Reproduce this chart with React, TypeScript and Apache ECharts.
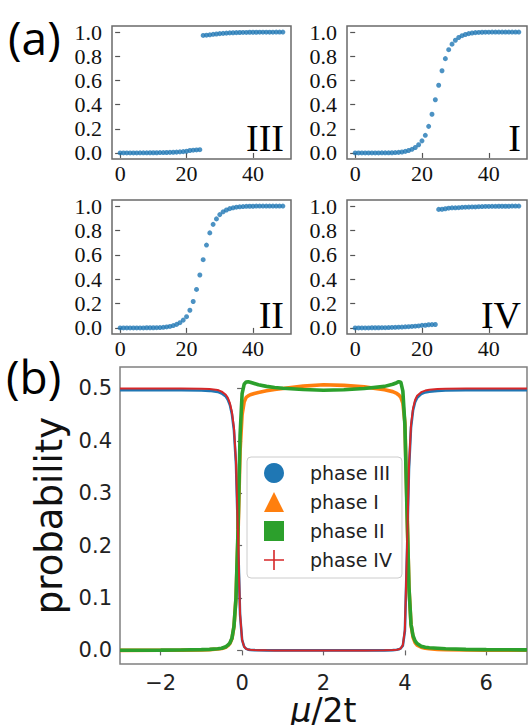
import React, { useEffect, useRef } from 'react';
import * as echarts from 'echarts';

// ---------- panel (a): four phase classifiers ----------
const aIndex = [
  0, 1, 2, 3, 4, 5, 6, 7, 8, 9,
  10, 11, 12, 13, 14, 15, 16, 17, 18, 19,
  20, 21, 22, 23, 24, 25, 26, 27, 28, 29,
  30, 31, 32, 33, 34, 35, 36, 37, 38, 39,
  40, 41, 42, 43, 44, 45, 46, 47, 48, 49,
];
const aPhaseIII = [
  0.0, 0.0, 0.0, 0.0, 0.0, 0.0, 0.001, 0.001, 0.001, 0.002,
  0.002, 0.002, 0.003, 0.003, 0.004, 0.005, 0.006, 0.007, 0.009, 0.011,
  0.014, 0.02, 0.023, 0.025, 0.027, 0.972, 0.974, 0.977, 0.981, 0.984,
  0.987, 0.989, 0.991, 0.993, 0.994, 0.995, 0.996, 0.997, 0.997, 0.998,
  0.998, 0.998, 0.999, 0.999, 0.999, 0.999, 0.999, 1.0, 1.0, 1.0,
];
const aPhaseI = [
  0.0, 0.0, 0.0, 0.0, 0.0, 0.0, 0.0, 0.0, 0.001, 0.001,
  0.001, 0.002, 0.003, 0.005, 0.008, 0.013, 0.02, 0.03, 0.045, 0.068,
  0.1, 0.146, 0.22, 0.32, 0.44, 0.56, 0.68, 0.78, 0.854, 0.9,
  0.932, 0.955, 0.97, 0.98, 0.987, 0.992, 0.995, 0.997, 0.998, 0.999,
  0.999, 1.0, 1.0, 1.0, 1.0, 1.0, 1.0, 1.0, 1.0, 1.0,
];
const aPhaseII = [
  0.0, 0.0, 0.0, 0.0, 0.0, 0.0, 0.0, 0.0, 0.001, 0.001,
  0.001, 0.002, 0.003, 0.005, 0.008, 0.012, 0.019, 0.029, 0.043, 0.064,
  0.092, 0.145, 0.217, 0.316, 0.434, 0.56, 0.68, 0.78, 0.85, 0.895,
  0.93, 0.953, 0.968, 0.979, 0.986, 0.991, 0.994, 0.996, 0.998, 0.999,
  0.999, 1.0, 1.0, 1.0, 1.0, 1.0, 1.0, 1.0, 1.0, 1.0,
];
const aPhaseIV = [
  0.0, 0.0, 0.0, 0.0, 0.0, 0.001, 0.001, 0.001, 0.002, 0.002,
  0.003, 0.004, 0.005, 0.006, 0.007, 0.009, 0.01, 0.012, 0.014, 0.016,
  0.021, 0.022, 0.026, 0.027, 0.028, 0.973, 0.974, 0.978, 0.983, 0.986,
  0.986, 0.987, 0.99, 0.991, 0.992, 0.993, 0.993, 0.995, 0.996, 0.997,
  0.997, 0.998, 0.998, 0.999, 0.999, 0.999, 0.999, 1.0, 1.0, 1.0,
];
const aPanelNames = ['III', 'I', 'II', 'IV'];
const aTicksX = [0, 20, 40];
const aTicksY = [0, 0.2, 0.4, 0.6, 0.8, 1.0];

// ---------- panel (b): probabilities vs mu/2t ----------
const muX = [
  -3, -2, -1.5, -1, -0.8, -0.6, -0.5, -0.4, -0.35, -0.3,
  -0.25, -0.2, -0.15, -0.1, -0.05, 0, 0.05, 0.1, 0.15, 0.2,
  0.3, 0.4, 0.6, 0.8, 1, 1.5, 2, 2.5, 3, 3.5,
  3.7, 3.8, 3.85, 3.9, 3.95, 4, 4.05, 4.1, 4.15, 4.2,
  4.25, 4.3, 4.4, 4.5, 4.6, 4.8, 5, 5.5, 6, 7,
];
const probIII = [
  0.4965, 0.4965, 0.4965, 0.496, 0.4955, 0.4935, 0.4905, 0.4845, 0.4785, 0.4685,
  0.451, 0.42, 0.355, 0.215, 0.068, 0.02, 0.007, 0.003, 0.0015, 0.001,
  0.0005, 0.0003, 0.0001, 0, 0, 0, 0, 0, 0, 0.0001,
  0.0005, 0.0012, 0.002, 0.004, 0.009, 0.037, 0.18, 0.345, 0.425, 0.458,
  0.474, 0.482, 0.4895, 0.4925, 0.494, 0.4955, 0.496, 0.4965, 0.4965, 0.4965,
];
const probI = [
  0, 0.0002, 0.0004, 0.001, 0.0015, 0.0025, 0.0035, 0.006, 0.009, 0.013,
  0.022, 0.045, 0.1, 0.22, 0.38, 0.45, 0.474, 0.483, 0.486, 0.488,
  0.4905, 0.4925, 0.4955, 0.498, 0.5, 0.5045, 0.507, 0.506, 0.503, 0.4975,
  0.494, 0.4905, 0.4875, 0.483, 0.472, 0.435, 0.28, 0.12, 0.05, 0.025,
  0.015, 0.01, 0.006, 0.004, 0.003, 0.002, 0.0015, 0.001, 0.0005, 0.0002,
];
const probII = [
  0.0003, 0.0005, 0.0008, 0.0015, 0.002, 0.003, 0.004, 0.007, 0.01, 0.014,
  0.023, 0.046, 0.1, 0.23, 0.41, 0.49, 0.508, 0.5125, 0.513, 0.512,
  0.5095, 0.507, 0.504, 0.502, 0.5005, 0.498, 0.4965, 0.4975, 0.5, 0.504,
  0.508, 0.511, 0.513, 0.512, 0.495, 0.43, 0.27, 0.12, 0.05, 0.028,
  0.018, 0.013, 0.008, 0.006, 0.005, 0.004, 0.003, 0.002, 0.0015, 0.001,
];
const probIV = [
  0.5, 0.5, 0.5, 0.4995, 0.499, 0.497, 0.494, 0.488, 0.482, 0.472,
  0.455, 0.425, 0.36, 0.22, 0.07, 0.02, 0.007, 0.003, 0.0015, 0.001,
  0.0005, 0.0003, 0.0001, 0, 0, 0, 0, 0, 0, 0.0001,
  0.0005, 0.0012, 0.002, 0.004, 0.01, 0.04, 0.19, 0.35, 0.43, 0.462,
  0.478, 0.486, 0.493, 0.496, 0.4975, 0.499, 0.4995, 0.5, 0.5, 0.5,
];
const bSeriesNames = ['phase III', 'phase I', 'phase II', 'phase IV'];
const bTicksX = [-2, 0, 2, 4, 6];
const bTicksY = [0, 0.1, 0.2, 0.3, 0.4, 0.5];

const BLUE = '#1f77b4';
const ORANGE = '#ff7f0e';
const GREEN = '#2ca02c';
const RED = '#d62728';
const SERIF = '"Liberation Serif", "DejaVu Serif", serif';
const SANS = '"DejaVu Sans", sans-serif';

const zip = (xs: number[], ys: number[]) => xs.map((x, i) => [x, ys[i]]);

export default function App() {
  const ref = useRef<HTMLDivElement>(null);
  useEffect(() => {
    if (!ref.current) return;
    const chart = echarts.init(ref.current, undefined, { renderer: 'svg' });

    const aGrids = [
      { left: 112, top: 26, width: 179, height: 133 },
      { left: 347, top: 26, width: 180, height: 133 },
      { left: 112, top: 200, width: 179, height: 134 },
      { left: 347, top: 200, width: 180, height: 134 },
    ];
    const grids: any[] = aGrids.map((g) => ({
      ...g,
      show: true,
      borderColor: '#6a6a6a',
      borderWidth: 1.5,
      containLabel: false,
      outerBoundsMode: 'none',
    }));
    grids.push({
      left: 120,
      top: 367,
      width: 407,
      height: 297,
      show: true,
      borderColor: '#808080',
      borderWidth: 1.5,
      containLabel: false,
      outerBoundsMode: 'none',
    });

    const xAxes: any[] = aGrids.map((_, i) => ({
      type: 'value',
      gridIndex: i,
      min: -2.45,
      max: 51.45,
      splitLine: { show: false },
      axisLine: { show: false },
      axisTick: { show: true, customValues: aTicksX, length: 5, lineStyle: { color: '#555', width: 1.2 } },
      axisLabel: {
        customValues: aTicksX,
        margin: 3,
        fontFamily: SERIF,
        fontSize: 22,
        color: '#111',
        formatter: (v: number) => String(v),
      },
    }));
    const yAxes: any[] = aGrids.map((_, i) => ({
      type: 'value',
      gridIndex: i,
      min: -0.05,
      max: 1.05,
      splitLine: { show: false },
      axisLine: { show: false },
      axisTick: { show: true, customValues: aTicksY, length: 5, lineStyle: { color: '#555', width: 1.2 } },
      axisLabel: {
        customValues: aTicksY,
        margin: 10,
        fontFamily: SERIF,
        fontSize: 22,
        color: '#111',
        formatter: (v: number) => v.toFixed(1),
      },
    }));
    xAxes.push({
      type: 'value',
      gridIndex: 4,
      min: -3,
      max: 7,
      splitLine: { show: false },
      axisLine: { show: false },
      axisTick: { show: true, customValues: bTicksX, length: 5, lineStyle: { color: '#666', width: 1.2 } },
      axisLabel: {
        customValues: bTicksX,
        margin: 8,
        fontFamily: SANS,
        fontSize: 21,
        lineHeight: 21,
        color: '#222',
        formatter: (v: number) => (v < 0 ? '\u2212' + Math.abs(v) : String(v)),
      },
      name: '{it|\u03bc}/2t',
      nameLocation: 'middle',
      nameGap: 30,
      nameTextStyle: {
        fontFamily: SANS,
        fontSize: 33,
        lineHeight: 31,
        color: '#111',
        rich: { it: { fontFamily: SANS, fontSize: 33, lineHeight: 31, fontStyle: 'italic', color: '#111' } },
      },
    });
    yAxes.push({
      type: 'value',
      gridIndex: 4,
      min: -0.026,
      max: 0.541,
      splitLine: { show: false },
      axisLine: { show: false },
      axisTick: { show: true, customValues: bTicksY, length: 5, lineStyle: { color: '#666', width: 1.2 } },
      axisLabel: {
        customValues: bTicksY,
        margin: 8,
        fontFamily: SANS,
        fontSize: 21,
        color: '#222',
        formatter: (v: number) => v.toFixed(1),
      },
      name: 'probability',
      nameLocation: 'middle',
      nameGap: 47,
      nameTextStyle: { fontFamily: SANS, fontSize: 37, color: '#111' },
    });

    const aData = [aPhaseIII, aPhaseI, aPhaseII, aPhaseIV];
    const series: any[] = aData.map((ys, i) => ({
      type: 'scatter',
      name: 'classifier ' + aPanelNames[i],
      xAxisIndex: i,
      yAxisIndex: i,
      symbol: 'circle',
      symbolSize: 5,
      itemStyle: { color: BLUE },
      data: zip(aIndex, ys),
    }));
    const bData = [probIII, probI, probII, probIV];
    const bColors = [BLUE, ORANGE, GREEN, RED];
    const bWidths = [2.6, 3.6, 3.6, 2];
    bData.forEach((ys, i) => {
      series.push({
        type: 'line',
        name: bSeriesNames[i],
        xAxisIndex: 4,
        yAxisIndex: 4,
        showSymbol: false,
        symbol: 'none',
        itemStyle: { color: bColors[i] },
        lineStyle: { color: bColors[i], width: bWidths[i] },
        data: zip(muX, ys),
        z: 2 + i,
      });
    });

    const plusPath = 'path://M9.2,0 L10.8,0 L10.8,9.2 L20,9.2 L20,10.8 L10.8,10.8 L10.8,20 L9.2,20 L9.2,10.8 L0,10.8 L0,9.2 L9.2,9.2 Z';
    const icons = ['circle', 'triangle', 'rect', plusPath];

    const panelLabelPos = [
      [284, 138],
      [521, 138],
      [284, 315],
      [521, 315],
    ];

    chart.setOption({
      animation: false,
      backgroundColor: '#fff',
      grid: grids,
      xAxis: xAxes,
      yAxis: yAxes,
      series,
      legend: {
        orient: 'vertical',
        left: 247,
        top: 457,
        padding: [6, 10, 8, 17],
        itemGap: 9,
        itemWidth: 20,
        itemHeight: 20,
        selectedMode: false,
        borderColor: '#ccc',
        borderWidth: 1,
        borderRadius: 4,
        backgroundColor: 'rgba(255,255,255,0.85)',
        textStyle: { fontFamily: SANS, fontSize: 19, color: '#222', padding: [0, 0, 0, 21] },
        data: bSeriesNames.map((n, i) => ({ name: n, icon: icons[i], itemStyle: { color: bColors[i] } })),
      },
      graphic: [
        ...aPanelNames.map((t, i) => ({
          type: 'text',
          x: panelLabelPos[i][0],
          y: panelLabelPos[i][1],
          style: { text: t, font: `38px ${SERIF}`, fill: '#000', align: 'right', verticalAlign: 'middle' },
          z: 10,
        })),
        {
          type: 'text',
          x: 8,
          y: 37,
          style: { text: '(a)', font: `46px "Open Sans", ${SANS}`, fill: '#000', align: 'left', verticalAlign: 'middle' },
        },
        {
          type: 'text',
          x: 6,
          y: 376,
          style: { text: '(b)', font: `46px "Open Sans", ${SANS}`, fill: '#000', align: 'left', verticalAlign: 'middle' },
        },
      ],
    });
    return () => chart.dispose();
  }, []);
  return <div ref={ref} style={{ position: 'absolute', left: 0, top: 0, width: 528, height: 725 }} />;
}
